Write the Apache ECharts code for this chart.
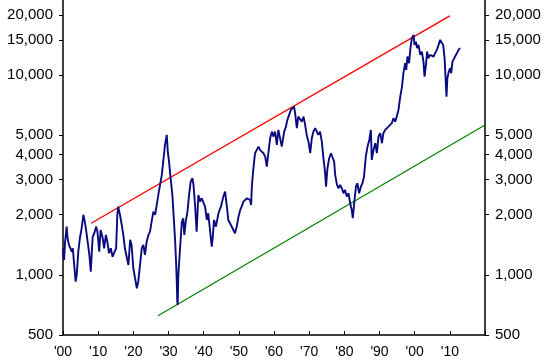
<!DOCTYPE html>
<html>
<head>
<meta charset="utf-8">
<script src="https://cdn.jsdelivr.net/npm/echarts@6/dist/echarts.min.js"></script>
<style>
html,body{margin:0;padding:0;background:#fff;}
#c{width:550px;height:363px;}
</style>
</head>
<body>
<div id="c"></div>
<script>
// Real (inflation-adjusted) index, [year, value]
const dowSeries = [
[1900.0,1359],[1900.1,1384],[1900.3,1188],[1900.6,1467],[1901.05,1744],[1901.3,1525],[1901.7,1412],[1902.0,1440],[1902.5,1307],[1902.8,1359],[1903.1,1165],[1903.6,925],[1903.9,999],[1904.35,1307],[1904.8,1525],[1905.3,1712],[1905.8,2000],[1906.1,1884],[1906.5,1712],[1906.9,1744],[1907.5,1258],[1907.9,1038],[1908.2,1307],[1908.45,1554],[1908.9,1616],[1909.4,1744],[1909.8,1646],[1910.3,1307],[1910.7,1678],[1911.3,1525],[1911.7,1359],[1912.2,1585],[1912.6,1467],[1913.1,1283],[1913.6,1359],[1914.1,1233],[1914.5,1233],[1915.1,1359],[1915.45,2000],[1915.7,2195],[1916.2,2000],[1916.7,1778],[1917.15,1585],[1917.6,1359],[1918.1,1233],[1918.6,1121],[1919.1,1500],[1919.5,1412],[1920.0,1079],[1920.5,961],[1921.0,857],[1921.4,925],[1921.9,1121],[1922.4,1359],[1922.85,1412],[1923.3,1258],[1923.8,1467],[1924.3,1585],[1924.75,1646],[1925.2,1847],[1925.7,2073],[1926.2,2000],[1926.65,2239],[1927.1,2513],[1927.6,2820],[1928.1,3165],[1928.5,3690],[1929.0,4473],[1929.5,5020],[1929.8,4141],[1930.15,3690],[1930.6,3047],[1931.1,2513],[1931.5,1921],[1931.9,1467],[1932.15,1165],[1932.35,925],[1932.5,734],[1932.6,707],[1932.8,999],[1933.1,1211],[1933.8,1847],[1934.2,1921],[1934.5,1585],[1934.9,1847],[1935.4,2073],[1935.85,2513],[1936.3,2930],[1936.8,3047],[1937.1,2820],[1937.55,2239],[1938.0,1646],[1938.5,2513],[1939.0,2326],[1939.45,2419],[1939.9,2372],[1940.4,2195],[1940.9,1884],[1941.3,2035],[1941.8,1678],[1942.3,1384],[1942.6,1554],[1942.95,1884],[1943.5,1744],[1944.2,2035],[1944.9,2195],[1945.6,2465],[1946.1,2611],[1946.6,2195],[1947.0,1884],[1947.5,1813],[1948.0,1778],[1948.45,1678],[1948.9,1616],[1949.4,1744],[1949.9,1956],[1950.4,2114],[1950.8,2195],[1951.3,2326],[1951.8,2372],[1952.3,2419],[1952.7,2465],[1953.2,2372],[1953.5,2239],[1953.7,2765],[1954.1,3353],[1954.6,4065],[1955.1,4223],[1955.6,4387],[1956.0,4223],[1956.5,4141],[1957.0,4065],[1957.5,3909],[1957.95,3483],[1958.4,4065],[1958.9,4833],[1959.4,5214],[1959.8,4923],[1960.3,5214],[1960.8,4473],[1961.25,5318],[1961.7,5424],[1962.2,4387],[1962.5,4306],[1962.9,5214],[1963.4,5525],[1963.8,5969],[1964.3,6323],[1964.8,6698],[1965.2,6831],[1965.7,6958],[1966.0,6448],[1966.5,5424],[1966.9,6200],[1967.4,6323],[1967.9,5853],[1968.4,6200],[1968.85,5634],[1969.3,5020],[1969.8,4647],[1970.3,4065],[1970.75,4833],[1971.2,5214],[1971.7,5424],[1972.2,5525],[1972.6,5020],[1973.1,5214],[1973.6,4647],[1974.05,3838],[1974.5,3288],[1974.8,2765],[1975.2,3419],[1975.7,3838],[1976.2,4065],[1976.6,3986],[1977.1,3690],[1977.4,3165],[1977.9,2820],[1978.35,2715],[1978.8,2820],[1979.3,2715],[1979.75,2563],[1980.2,2662],[1980.7,2465],[1981.2,2563],[1981.65,2284],[1982.1,2114],[1982.4,1921],[1982.8,2284],[1983.3,2765],[1983.7,2876],[1984.2,2563],[1984.7,2765],[1985.15,2876],[1985.6,3104],[1986.1,3909],[1986.6,4387],[1987.1,4739],[1987.55,5318],[1987.8,3764],[1988.3,4223],[1988.8,4561],[1989.25,4065],[1989.7,4923],[1990.2,5120],[1990.7,4561],[1991.1,5120],[1991.6,5318],[1992.1,5318],[1992.55,5525],[1993.0,5525],[1993.5,5746],[1993.95,6087],[1994.45,5853],[1994.9,6200],[1995.4,6698],[1995.9,7807],[1996.4,8763],[1996.8,10228],[1997.3,11478],[1997.6,10624],[1997.95,12388],[1998.4,11478],[1998.8,13646],[1999.2,15313],[1999.7,15907],[1999.95,14173],[2000.35,14723],[2000.7,13646],[2001.1,14173],[2001.6,12634],[2002.05,13124],[2002.5,11692],[2002.8,9834],[2003.2,11258],[2003.55,13124],[2003.9,12161],[2004.4,12634],[2004.9,12883],[2005.35,12388],[2005.8,12883],[2006.3,13383],[2006.8,14173],[2007.25,15016],[2007.7,15313],[2008.1,14173],[2008.5,12161],[2008.75,10029],[2009.05,7807],[2009.3,9654],[2009.7,10418],[2010.1,10835],[2010.4,10228],[2010.75,11692],[2011.15,11478],[2011.5,12388],[2012.0,12634],[2012.5,13383],[2012.9,13646]
];
const upperTrend = [[1908, 1813], [2010, 19800]];
const lowerTrend = [[1927, 625], [2020, 5634]];
const yTickValues = [500, 1000, 2000, 3000, 4000, 5000, 10000, 15000, 20000];
const xTickLabels = ["'00", "'10", "'20", "'30", "'40", "'50", "'60", "'70", "'80", "'90", "'00", "'10", ""];
const xMin = 1900, xMax = 2020, xStep = 10;
const yMin = 500, yMax = 23780;

function fmtNum(v) {
  return String(Math.round(v)).replace(/\B(?=(\d{3})+(?!\d))/g, ',');
}

const font = 'Arial, "Liberation Sans", Helvetica, sans-serif';
function yAxisCfg(pos) {
  return {
    type: 'log', logBase: 10, position: pos, min: yMin, max: yMax,
    axisLine: { show: true, lineStyle: { color: '#000', width: 1.5 } },
    axisTick: { show: true, inside: false, length: 4, customValues: yTickValues, lineStyle: { color: '#000', width: 1 } },
    axisLabel: { show: true, customValues: yTickValues, margin: 10, color: '#000', fontSize: 15, fontFamily: font, formatter: v => fmtNum(v) },
    splitLine: { show: false }, minorTick: { show: false }
  };
}

const chart = echarts.init(document.getElementById('c'), null, { renderer: 'canvas' });
chart.setOption({
  animation: false,
  backgroundColor: '#fff',
  grid: { left: 63, right: 65, top: 0, bottom: 28, containLabel: false, outerBoundsMode: 'none' },
  xAxis: {
    type: 'value', min: xMin, max: xMax, interval: xStep,
    axisLine: { show: true, onZero: false, lineStyle: { color: '#000', width: 1.5 } },
    axisTick: { show: true, inside: true, length: 4, lineStyle: { color: '#000', width: 1 } },
    axisLabel: { margin: 10, color: '#000', fontSize: 14, fontFamily: font, showMaxLabel: true,
      formatter: v => xTickLabels[Math.round((v - xMin) / xStep)] || '' },
    splitLine: { show: false }
  },
  yAxis: [yAxisCfg('left'), yAxisCfg('right')],
  series: [
    { type: 'line', data: upperTrend, showSymbol: false, lineStyle: { color: '#ff0000', width: 1.4 }, z: 2 },
    { type: 'line', data: lowerTrend, showSymbol: false, lineStyle: { color: '#008000', width: 1.2 }, z: 2 },
    { type: 'line', data: dowSeries, showSymbol: false, lineStyle: { color: '#0a0a80', width: 1.9 }, z: 3 }
  ]
});
</script>
</body>
</html>
